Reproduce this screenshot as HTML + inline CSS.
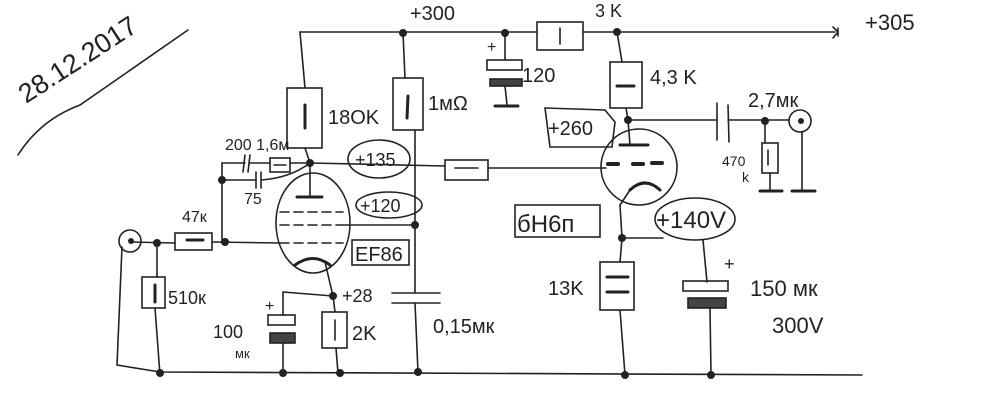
<!DOCTYPE html>
<html><head><meta charset="utf-8"><style>
html,body{margin:0;padding:0;background:#fff;}
svg{display:block;}
text{font-family:"Liberation Sans","DejaVu Sans",sans-serif;fill:#222;}
</style></head><body>
<svg width="1000" height="404" viewBox="0 0 1000 404" xmlns="http://www.w3.org/2000/svg">
<g stroke="#222" stroke-width="1.6" fill="none" stroke-linecap="round">
<path d="M18 155 Q40 120 80 105 L188 30"/>
<line x1="300" y1="32" x2="537" y2="32"/>
<line x1="583" y1="32" x2="835" y2="32"/>
<path d="M833 27 L838 32 L833 38 M838 28 L838 36"/>
<rect x="537" y="22" width="46" height="28"/>
<line x1="560" y1="28" x2="560" y2="44"/>
<line x1="300" y1="32" x2="305" y2="88"/>
<rect x="287" y="88" width="35" height="60"/>
<line x1="305" y1="105" x2="305" y2="128" stroke-width="3"/>
<line x1="305" y1="148" x2="310" y2="163"/>
<line x1="403" y1="33" x2="405" y2="78"/>
<rect x="393" y="78" width="30" height="52"/>
<line x1="408" y1="96" x2="407" y2="118" stroke-width="3"/>
<line x1="415" y1="130" x2="415" y2="293"/>
<line x1="415" y1="303" x2="418" y2="372"/>
<line x1="505" y1="33" x2="505" y2="60"/>
<rect x="487" y="60" width="35" height="10"/>
<rect x="490" y="79" width="32" height="7" fill="#444"/>
<line x1="505" y1="86" x2="507" y2="105"/>
<line x1="495" y1="106" x2="518" y2="106" stroke-width="3"/>
<line x1="617" y1="32" x2="622" y2="62"/>
<rect x="610" y="62" width="32" height="46"/>
<line x1="617" y1="86" x2="634" y2="86" stroke-width="3"/>
<line x1="626" y1="108" x2="628" y2="120"/>
<line x1="628" y1="120" x2="717" y2="120"/>
<line x1="717" y1="103" x2="717" y2="140"/>
<line x1="728" y1="105" x2="729" y2="142"/>
<line x1="728" y1="120" x2="789" y2="120"/>
<circle cx="800" cy="121" r="11"/>
<line x1="765" y1="121" x2="765" y2="143"/>
<rect x="762" y="143" width="16" height="30"/>
<line x1="768" y1="150" x2="768" y2="165"/>
<line x1="770" y1="173" x2="770" y2="190"/>
<line x1="760" y1="191" x2="782" y2="191" stroke-width="3"/>
<line x1="802" y1="132" x2="802" y2="190"/>
<line x1="792" y1="191" x2="815" y2="191" stroke-width="3"/>
<path d="M545 108 L605 110 L615 122 L612 147 L550 147 Z"/>
<circle cx="639" cy="167" r="38"/>
<line x1="628" y1="120" x2="630" y2="145"/>
<line x1="620" y1="145" x2="648" y2="145" stroke-width="3"/>
<line x1="608" y1="164" x2="618" y2="164" stroke-width="4"/>
<line x1="633" y1="164" x2="643" y2="164" stroke-width="4"/>
<line x1="652" y1="163" x2="662" y2="163" stroke-width="4"/>
<path d="M630 190 Q645 176 660 190" stroke-width="3"/>
<line x1="630" y1="190" x2="620" y2="205"/>
<line x1="620" y1="205" x2="622" y2="238"/>
<line x1="622" y1="238" x2="663" y2="238"/>
<ellipse cx="695" cy="219" rx="40" ry="21"/>
<rect x="515" y="205" width="85" height="32"/>
<line x1="622" y1="238" x2="620" y2="262"/>
<rect x="600" y="262" width="34" height="48"/>
<line x1="607" y1="277" x2="628" y2="277" stroke-width="3"/>
<line x1="607" y1="292" x2="628" y2="292" stroke-width="3"/>
<line x1="620" y1="310" x2="625" y2="375"/>
<line x1="703" y1="240" x2="707" y2="282"/>
<rect x="683" y="281" width="45" height="10"/>
<rect x="688" y="298" width="38" height="10" fill="#444"/>
<line x1="710" y1="308" x2="711" y2="375"/>
<line x1="310" y1="163" x2="445" y2="166"/>
<rect x="445" y="160" width="43" height="20"/>
<line x1="455" y1="168" x2="478" y2="168"/>
<line x1="488" y1="168" x2="606" y2="168"/>
<ellipse cx="379" cy="159" rx="31" ry="19"/>
<ellipse cx="389" cy="205" rx="33" ry="13"/>
<rect x="352" y="240" width="57" height="25"/>
<ellipse cx="313" cy="223" rx="37" ry="50"/>
<line x1="310" y1="163" x2="310" y2="195"/>
<line x1="297" y1="197" x2="322" y2="197" stroke-width="3"/>
<line x1="280" y1="212" x2="343" y2="212" stroke-dasharray="9 5"/>
<line x1="280" y1="225" x2="343" y2="225" stroke-dasharray="9 5"/>
<line x1="343" y1="225" x2="415" y2="225"/>
<line x1="280" y1="243" x2="343" y2="243" stroke-dasharray="9 5"/>
<path d="M295 265 Q313 252 330 265" stroke-width="3"/>
<line x1="325" y1="262" x2="333" y2="296"/>
<line x1="222" y1="163" x2="245" y2="163"/>
<line x1="245" y1="155" x2="243" y2="172"/>
<line x1="250" y1="155" x2="248" y2="172"/>
<line x1="250" y1="163" x2="270" y2="163"/>
<rect x="270" y="158" width="20" height="14"/>
<line x1="274" y1="165" x2="286" y2="165"/>
<line x1="290" y1="163" x2="310" y2="163"/>
<line x1="222" y1="180" x2="256" y2="180"/>
<line x1="256" y1="172" x2="256" y2="188"/>
<line x1="261" y1="172" x2="261" y2="188"/>
<path d="M261 180 Q290 178 310 163"/>
<line x1="222" y1="163" x2="222" y2="243"/>
<circle cx="130" cy="241" r="11"/>
<line x1="130" y1="242" x2="175" y2="243"/>
<rect x="175" y="233" width="37" height="17"/>
<line x1="187" y1="240" x2="203" y2="240" stroke-width="3"/>
<line x1="212" y1="242" x2="280" y2="243"/>
<line x1="157" y1="243" x2="157" y2="277"/>
<rect x="142" y="277" width="23" height="31"/>
<line x1="155" y1="285" x2="155" y2="302" stroke-width="3"/>
<line x1="155" y1="308" x2="160" y2="375"/>
<line x1="122" y1="247" x2="117" y2="365"/>
<line x1="283" y1="292" x2="333" y2="296"/>
<line x1="283" y1="292" x2="283" y2="315"/>
<rect x="268" y="315" width="27" height="10"/>
<rect x="270" y="333" width="25" height="10" fill="#444"/>
<line x1="283" y1="343" x2="283" y2="373"/>
<line x1="333" y1="296" x2="335" y2="312"/>
<rect x="322" y="312" width="25" height="36"/>
<line x1="335" y1="320" x2="335" y2="340"/>
<line x1="336" y1="348" x2="338" y2="373"/>
<line x1="392" y1="293" x2="440" y2="293"/>
<line x1="392" y1="303" x2="440" y2="303"/>
<path d="M117 365 L160 372 L862 375"/>
</g>
<g fill="#222">
<circle cx="403" cy="33" r="4"/><circle cx="505" cy="33" r="4"/><circle cx="617" cy="32" r="4"/>
<circle cx="628" cy="120" r="4"/><circle cx="765" cy="121" r="4"/><circle cx="801" cy="121" r="3"/>
<circle cx="622" cy="238" r="4"/><circle cx="310" cy="163" r="4"/><circle cx="222" cy="180" r="4"/>
<circle cx="225" cy="242" r="4"/><circle cx="157" cy="243" r="4"/><circle cx="131" cy="241" r="3"/>
<circle cx="415" cy="225" r="4"/><circle cx="333" cy="296" r="4"/>
<circle cx="160" cy="373" r="4"/><circle cx="283" cy="373" r="4"/><circle cx="340" cy="373" r="4"/>
<circle cx="418" cy="372" r="4"/><circle cx="625" cy="375" r="4"/><circle cx="711" cy="375" r="4"/>
</g>
<text x="26" y="104" font-size="27" transform="rotate(-33 26 104)">28.12.2017</text>
<text x="410" y="20" font-size="20">+300</text>
<text x="595" y="17" font-size="18">3 K</text>
<text x="865" y="30" font-size="22">+305</text>
<text x="328" y="124" font-size="20">18OK</text>
<text x="428" y="110" font-size="20">1мΩ</text>
<text x="487" y="52" font-size="16">+</text>
<text x="522" y="82" font-size="20">120</text>
<text x="650" y="84" font-size="20">4,3 K</text>
<text x="748" y="107" font-size="20">2,7мк</text>
<text x="722" y="166" font-size="14">470</text>
<text x="742" y="182" font-size="14">k</text>
<text x="548" y="135" font-size="20">+260</text>
<text x="517" y="232" font-size="24">бН6п</text>
<text x="656" y="228" font-size="24">+140V</text>
<text x="724" y="270" font-size="18">+</text>
<text x="548" y="295" font-size="20">13K</text>
<text x="750" y="296" font-size="22">150 мк</text>
<text x="772" y="333" font-size="22">300V</text>
<text x="225" y="150" font-size="16">200 1,6м</text>
<text x="244" y="204" font-size="16">75</text>
<text x="182" y="222" font-size="16">47к</text>
<text x="168" y="304" font-size="18">510к</text>
<text x="355" y="166" font-size="18">+135</text>
<text x="360" y="212" font-size="18">+120</text>
<text x="355" y="261" font-size="20">EF86</text>
<text x="342" y="302" font-size="18">+28</text>
<text x="352" y="340" font-size="20">2K</text>
<text x="265" y="311" font-size="16">+</text>
<text x="213" y="338" font-size="18">100</text>
<text x="235" y="358" font-size="13">мк</text>
<text x="433" y="333" font-size="20">0,15мк</text>
</svg>
</body></html>
